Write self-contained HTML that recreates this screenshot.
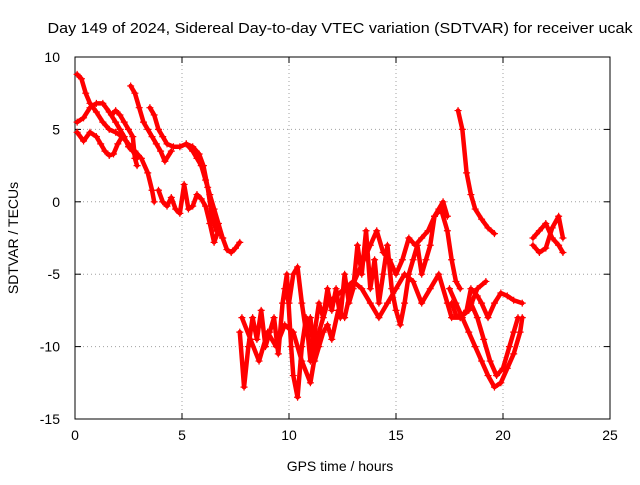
<!DOCTYPE html>
<html><head><meta charset="utf-8"><style>
body{margin:0;background:#fff}
svg{font-family:"Liberation Sans",sans-serif;font-size:14px}
</style></head><body>
<svg width="640" height="480">
<g id="grid"></g>
<g id="axes"></g>
<g id="series"></g>
<text x="340" y="33" text-anchor="middle" font-size="15" textLength="585" lengthAdjust="spacingAndGlyphs">Day 149 of 2024, Sidereal Day-to-day VTEC variation (SDTVAR) for receiver ucak</text>
<text x="340" y="471" text-anchor="middle">GPS time / hours</text>
<text transform="translate(18,238) rotate(-90)" text-anchor="middle">SDTVAR / TECUs</text>
</svg>
<script>
const xTicks=[0,5,10,15,20,25];
const yTicks=[10,5,0,-5,-10,-15];
const tracks=[
[[0.1,8.8],[0.3,8.5],[0.5,7.5],[0.7,6.8],[1.0,6.2],[1.3,5.5],[1.6,5.0],[1.9,4.8],[2.2,4.5],[2.5,4],[2.8,3.5],[3.1,3],[3.4,2],[3.6,0.8],[3.7,0]],
[[0.1,5.5],[0.4,5.8],[0.7,6.5],[1.0,6.8],[1.3,6.8],[1.6,6.2],[1.9,5.5],[2.1,5],[2.3,4.5],[2.5,3.8],[2.7,3.5],[2.9,3]],
[[0.1,4.8],[0.4,4.2],[0.7,4.8],[1.0,4.5],[1.2,4],[1.4,3.5],[1.6,3.2],[1.8,3.3],[2.0,4],[2.2,4.5]],
[[1.7,6],[1.9,6.3],[2.1,6],[2.3,5.5],[2.5,5],[2.7,4.5],[2.8,3],[2.9,2.5]],
[[2.6,8],[2.8,7.5],[3.0,6.5],[3.2,5.5],[3.4,5],[3.6,4.5],[3.8,4],[4.0,3.5],[4.2,2.8],[4.5,3.5]],
[[3.5,6.5],[3.7,6],[3.9,5],[4.1,4.5],[4.3,4],[4.6,3.8],[4.9,3.8],[5.2,4],[5.5,3.5],[5.7,3],[5.9,2.5],[6.1,1.5],[6.3,0.5],[6.5,-0.5],[6.7,-1.5],[6.9,-2.5],[7.1,-3.3],[7.3,-3.5],[7.5,-3.2],[7.7,-2.8]],
[[3.9,0.8],[4.1,0],[4.3,-0.3],[4.5,0.3],[4.7,-0.5],[4.9,-0.8],[5.1,1.2],[5.3,-0.5],[5.5,-0.3],[5.7,0.5],[5.9,0.2],[6.1,-0.3],[6.3,-1.5],[6.5,-2.8],[6.7,-2],[6.9,-2.5]],
[[5.2,4],[5.5,3.8],[5.8,3.3],[6.0,2.5],[6.2,1],[6.4,-1],[6.6,-2]],
[[7.7,-9],[7.9,-12.8],[8.1,-10],[8.3,-8],[8.5,-9.5],[8.7,-7.5],[8.9,-10],[9.1,-9],[9.3,-8],[9.5,-10.5],[9.7,-7],[9.9,-5],[10.1,-10],[10.2,-12],[10.4,-13.5],[10.6,-10],[10.8,-8],[11,-11],[11.2,-9],[11.4,-7],[11.6,-8],[11.8,-6],[12,-7.5],[12.2,-6],[12.4,-8],[12.6,-5],[12.8,-7],[13,-6],[13.2,-3],[13.4,-5],[13.6,-2],[13.8,-6],[14,-4],[14.2,-7],[14.4,-5],[14.6,-3],[14.8,-6],[15,-7.5],[15.2,-8.5],[15.4,-7],[15.6,-5],[15.8,-4],[16,-3],[16.2,-5],[16.4,-4],[16.6,-3],[16.8,-1],[17,-0.5],[17.2,0],[17.4,-1]],
[[9.8,-6],[10,-7],[10.2,-5],[10.4,-4.5],[10.6,-7],[10.8,-9],[11,-8],[11.2,-11],[11.4,-10],[11.6,-9],[11.8,-8.5],[12,-9.5],[12.3,-7.5],[12.6,-8],[12.9,-6],[13.2,-5],[13.5,-4],[13.8,-3],[14.1,-2],[14.4,-3.5],[14.7,-4],[15,-5],[15.3,-4],[15.6,-2.5],[15.9,-3],[16.2,-2.5],[16.5,-2],[16.8,-1],[17.1,-0.5],[17.4,-2],[17.6,-4],[17.8,-5.5],[18,-6]],
[[7.8,-8],[8.2,-9.5],[8.6,-11],[9,-9],[9.4,-10],[9.8,-8.5],[10.2,-9],[10.6,-11],[11,-12.5],[11.4,-9],[11.8,-7],[12.2,-6.5],[12.6,-6],[13,-5.5],[13.4,-6],[13.8,-7],[14.2,-8],[14.6,-7],[15,-6],[15.4,-5],[15.8,-5.5],[16.2,-7],[16.6,-6],[17,-5],[17.4,-7],[17.6,-8],[18,-8],[18.4,-7.5],[18.8,-6],[19.2,-5.5]],
[[17.5,-6],[17.8,-7],[18.1,-8],[18.4,-9],[18.7,-10],[19,-11],[19.3,-12],[19.6,-12.8],[19.9,-12.5],[20.2,-11.5],[20.5,-10.5],[20.8,-9],[20.9,-8]],
[[18.5,-7],[18.8,-8],[19.1,-9.5],[19.4,-11],[19.7,-12],[20,-11.5],[20.3,-10],[20.5,-9],[20.7,-8]],
[[17.6,-7],[17.8,-7.8],[18,-8],[18.3,-7.5],[18.5,-6],[18.8,-6.5],[19,-7],[19.3,-8],[19.6,-7],[19.9,-6.3],[20.2,-6.5],[20.5,-6.8],[20.9,-7]],
[[17.9,6.3],[18.1,5],[18.3,2],[18.5,0.5],[18.7,-0.5],[19,-1.2],[19.3,-1.8],[19.6,-2.2]],
[[21.4,-2.5],[21.7,-2],[22,-1.5],[22.3,-2.5],[22.6,-3],[22.8,-3.5]],
[[21.4,-3],[21.7,-3.5],[22,-3.2],[22.3,-1.8],[22.6,-1],[22.8,-2.5]]
];
const X0=75,X1=610,Y0=419,Y1=57;
const sx=v=>X0+(v-0)/(25-0)*(X1-X0);
const sy=v=>Y0-(v+15)/(25)*(Y0-Y1);
const NS="http://www.w3.org/2000/svg";
function mk(t,a,p){const e=document.createElementNS(NS,t);for(const k in a)e.setAttribute(k,a[k]);p.appendChild(e);return e;}
const grid=document.getElementById('grid'),axes=document.getElementById('axes'),ser=document.getElementById('series');
xTicks.forEach(t=>{const x=sx(t);
 if(t>0&&t<25){const l=mk('line',{x1:x,x2:x,y1:Y1,y2:Y0,stroke:'#a0a0a0','stroke-dasharray':'1,3'},grid);}
 mk('line',{x1:x,x2:x,y1:Y0,y2:Y0-6,stroke:'#000'},axes);mk('line',{x1:x,x2:x,y1:Y1,y2:Y1+6,stroke:'#000'},axes);
 const tx=mk('text',{x:x,y:Y0+21,'text-anchor':'middle'},axes);tx.textContent=t;
 
 
});
yTicks.forEach(t=>{const y=sy(t);
 if(t>-15&&t<10){const l=mk('line',{x1:X0,x2:X1,y1:y,y2:y,stroke:'#a0a0a0','stroke-dasharray':'1,3'},grid);}
 mk('line',{x1:X0,x2:X0+6,y1:y,y2:y,stroke:'#000'},axes);mk('line',{x1:X1,x2:X1-6,y1:y,y2:y,stroke:'#000'},axes);
 const tx=mk('text',{x:X0-15,y:y+5,'text-anchor':'end'},axes);tx.textContent=t;
 
 
});
mk('rect',{x:X0,y:Y1,width:X1-X0,height:Y0-Y1,fill:'none',stroke:'#000'},axes);
tracks.forEach(tr=>{
 const g=mk('g',{},ser);
 
 
 mk('polyline',{points:tr.map(p=>sx(p[0])+','+sy(p[1])).join(' '),fill:'none',stroke:'#f00','stroke-width':4.5,'stroke-linejoin':'round','stroke-linecap':'round'},g);
 tr.forEach(p=>{const x=sx(p[0]),y=sy(p[1]);
  const m=mk('path',{d:`M${x-3.5},${y}h7M${x},${y-3.5}v7`,stroke:'#f00','stroke-width':1.2},g);
  
  
 });
});
</script>
</body></html>
